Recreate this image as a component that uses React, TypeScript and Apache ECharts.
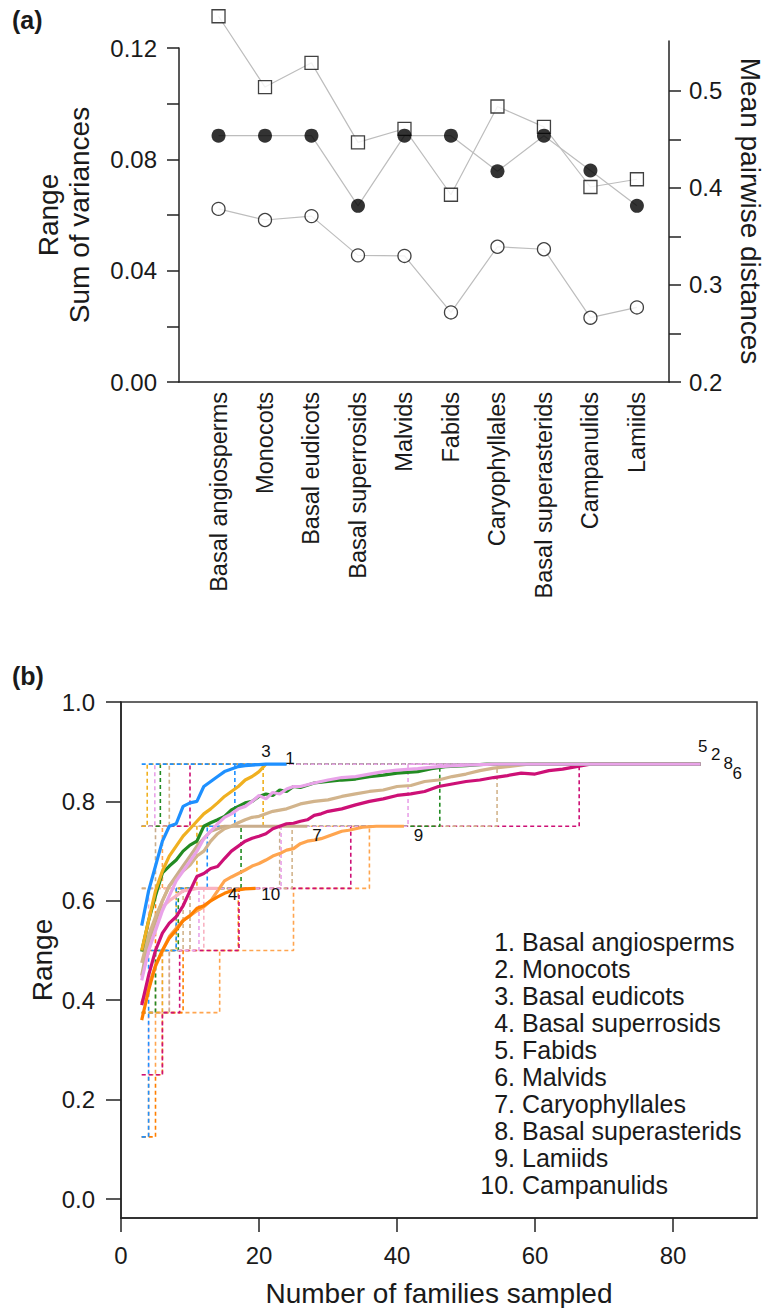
import React, { useEffect, useRef } from 'react';
import * as echarts from 'echarts';

// ---------- Panel (a) data ----------
const categories = ['Basal angiosperms', 'Monocots', 'Basal eudicots', 'Basal superrosids', 'Malvids', 'Fabids', 'Caryophyllales', 'Basal superasterids', 'Campanulids', 'Lamiids'];
const rangeValues = [0.0885, 0.0885, 0.0885, 0.0633, 0.0885, 0.0885, 0.0757, 0.0885, 0.0760, 0.0633];
const sumOfVariances = [0.0622, 0.0582, 0.0596, 0.0455, 0.0453, 0.0250, 0.0486, 0.0477, 0.0231, 0.0268];
const meanPairwiseDistances = [0.577, 0.504, 0.529, 0.447, 0.461, 0.393, 0.484, 0.463, 0.401, 0.409];
const leftTicks = [0, 0.02, 0.04, 0.06, 0.08, 0.10, 0.12];
const leftLabels = [0, 0.04, 0.08, 0.12];
const rightTicks = [0.2, 0.25, 0.3, 0.35, 0.4, 0.45, 0.5];
const rightLabels = [0.2, 0.3, 0.4, 0.5];

// ---------- Panel (b) data ----------
const groupNames = ['Basal angiosperms', 'Monocots', 'Basal eudicots', 'Basal superrosids', 'Fabids', 'Malvids', 'Caryophyllales', 'Basal superasterids', 'Lamiids', 'Campanulids'];
const groupColors = ['#1e90ff', '#228b22', '#f0b020', '#f9b3c2', '#e9a3e9', '#cd1076', '#c9ad8c', '#d2b48c', '#ffa54f', '#ff7f00'];

const curveBasalAngiosperms = [[3, 0.55], [4, 0.62], [5, 0.67], [6, 0.72], [7, 0.75], [8, 0.755], [9, 0.79], [10, 0.797], [11, 0.80], [12, 0.83], [13, 0.84], [14, 0.85], [15, 0.86], [16, 0.865], [17, 0.87], [18, 0.872], [19, 0.873], [20, 0.874], [21, 0.875], [24, 0.875]];
const curveMonocots = [[3, 0.498], [4, 0.56], [5, 0.61], [6, 0.656], [7, 0.67], [8, 0.682], [9, 0.70], [10, 0.712], [11, 0.72], [12, 0.75], [13, 0.757], [14, 0.763], [15, 0.77], [16, 0.783], [17, 0.79], [18, 0.797], [19, 0.80], [20, 0.81], [21, 0.815], [22, 0.812], [23, 0.823], [24, 0.82], [25, 0.83], [26, 0.828], [28, 0.837], [30, 0.84], [32, 0.843], [34, 0.845], [36, 0.85], [38, 0.853], [40, 0.857], [43, 0.86], [45, 0.866], [47, 0.87], [50, 0.872], [53, 0.875], [84, 0.875]];
const curveBasalEudicots = [[3, 0.50], [4, 0.56], [5, 0.62], [6, 0.66], [7, 0.69], [8, 0.71], [9, 0.73], [10, 0.745], [11, 0.76], [12, 0.775], [13, 0.785], [14, 0.797], [15, 0.81], [16, 0.82], [17, 0.83], [18, 0.843], [19, 0.85], [20, 0.86], [21, 0.875]];
const curveBasalSuperrosids = [[3, 0.447], [4, 0.50], [5, 0.55], [6, 0.588], [7, 0.60], [8, 0.61], [9, 0.62], [10, 0.622], [11, 0.625], [14, 0.625]];
const curveFabids = [[3, 0.44], [4, 0.50], [5, 0.54], [6, 0.58], [7, 0.61], [8, 0.64], [9, 0.66], [10, 0.68], [11, 0.70], [12, 0.725], [13, 0.74], [14, 0.755], [15, 0.768], [16, 0.775], [17, 0.785], [18, 0.79], [19, 0.80], [20, 0.812], [21, 0.805], [22, 0.818], [23, 0.815], [24, 0.825], [25, 0.83], [26, 0.83], [28, 0.837], [30, 0.843], [32, 0.848], [34, 0.85], [36, 0.855], [38, 0.86], [40, 0.863], [43, 0.866], [46, 0.87], [50, 0.873], [54, 0.875], [84, 0.875]];
const curveMalvids = [[3, 0.39], [4, 0.45], [5, 0.50], [6, 0.535], [7, 0.555], [8, 0.568], [9, 0.59], [10, 0.62], [11, 0.649], [12, 0.655], [13, 0.665], [14, 0.669], [15, 0.685], [16, 0.70], [17, 0.71], [18, 0.72], [19, 0.726], [20, 0.73], [21, 0.735], [22, 0.745], [23, 0.75], [24, 0.755], [25, 0.756], [26, 0.76], [27, 0.763], [28, 0.772], [29, 0.775], [30, 0.78], [32, 0.785], [34, 0.793], [36, 0.80], [38, 0.805], [40, 0.812], [42, 0.815], [44, 0.82], [46, 0.83], [48, 0.835], [50, 0.84], [52, 0.843], [54, 0.848], [56, 0.852], [58, 0.857], [60, 0.855], [62, 0.862], [64, 0.865], [66, 0.87], [68, 0.875], [84, 0.875]];
const curveCaryophyllales = [[3, 0.45], [4, 0.52], [5, 0.56], [6, 0.60], [7, 0.63], [8, 0.65], [9, 0.67], [10, 0.69], [11, 0.71], [12, 0.725], [13, 0.74], [14, 0.745], [15, 0.75], [27, 0.75]];
const curveBasalSuperasterids = [[3, 0.475], [4, 0.53], [5, 0.568], [6, 0.60], [7, 0.63], [8, 0.645], [9, 0.66], [10, 0.672], [11, 0.69], [12, 0.70], [13, 0.72], [14, 0.735], [15, 0.745], [16, 0.75], [17, 0.757], [18, 0.763], [19, 0.768], [20, 0.77], [22, 0.78], [24, 0.785], [26, 0.795], [28, 0.80], [30, 0.803], [32, 0.81], [34, 0.815], [36, 0.82], [38, 0.823], [40, 0.83], [42, 0.832], [44, 0.84], [46, 0.843], [48, 0.85], [50, 0.855], [52, 0.862], [54, 0.867], [56, 0.87], [59, 0.875], [84, 0.875]];
const curveLamiids = [[3, 0.394], [4, 0.43], [5, 0.468], [6, 0.50], [7, 0.528], [8, 0.545], [9, 0.561], [10, 0.57], [11, 0.58], [12, 0.588], [13, 0.60], [14, 0.62], [15, 0.64], [16, 0.648], [17, 0.655], [18, 0.662], [19, 0.67], [20, 0.675], [21, 0.682], [22, 0.69], [23, 0.695], [24, 0.702], [25, 0.705], [26, 0.715], [27, 0.72], [28, 0.722], [29, 0.725], [30, 0.73], [31, 0.735], [32, 0.74], [33, 0.742], [34, 0.745], [35, 0.748], [37, 0.75], [41, 0.75]];
const curveCampanulids = [[3, 0.36], [4, 0.42], [5, 0.47], [6, 0.50], [7, 0.525], [8, 0.541], [9, 0.56], [10, 0.57], [11, 0.585], [12, 0.59], [13, 0.60], [14, 0.608], [15, 0.615], [16, 0.62], [17, 0.622], [18, 0.624], [19.5, 0.625]];

const lowerBasalAngiosperms = [[3, 0.125], [4, 0.5], [8, 0.625], [12.5, 0.75], [16.5, 0.875], [24, 0.875]];
const upperBasalAngiosperms = [[3, 0.875], [24, 0.875]];
const lowerMonocots = [[3, 0.375], [5, 0.5], [8.3, 0.625], [17.4, 0.75], [46.2, 0.875], [84, 0.875]];
const upperMonocots = [[3, 0.75], [5.7, 0.875], [84, 0.875]];
const lowerBasalEudicots = [[3, 0.375], [6, 0.5], [8, 0.625], [11, 0.75], [20.6, 0.875], [21, 0.875]];
const upperBasalEudicots = [[3, 0.75], [3.8, 0.875], [21, 0.875]];
const lowerBasalSuperrosids = [[3, 0.25], [4, 0.375], [7, 0.5], [12, 0.625], [14, 0.625]];
const upperBasalSuperrosids = [[3, 0.5], [4, 0.625], [14, 0.625]];
const lowerFabids = [[3, 0.375], [6, 0.5], [11.3, 0.625], [23.2, 0.75], [41.6, 0.875], [84, 0.875]];
const upperFabids = [[3, 0.75], [4.9, 0.875], [84, 0.875]];
const lowerMalvids = [[3, 0.25], [6, 0.375], [8.5, 0.5], [17.1, 0.625], [33.3, 0.75], [66.4, 0.875], [84, 0.875]];
const upperMalvids = [[3, 0.75], [10, 0.875], [84, 0.875]];
const lowerCaryophyllales = [[3, 0.375], [7, 0.5], [10, 0.625], [23, 0.75], [27, 0.75]];
const upperCaryophyllales = [[3, 0.625], [5, 0.75], [27, 0.75]];
const lowerBasalSuperasterids = [[3, 0.375], [5, 0.5], [9, 0.625], [24.8, 0.75], [54.5, 0.875], [84, 0.875]];
const upperBasalSuperasterids = [[3, 0.75], [7, 0.875], [84, 0.875]];
const lowerLamiids = [[3, 0.125], [4, 0.25], [5, 0.375], [14.3, 0.5], [25, 0.625], [36, 0.75], [41, 0.75]];
const upperLamiids = [[3, 0.625], [6, 0.75], [41, 0.75]];
const lowerCampanulids = [[3, 0.125], [5, 0.25], [6, 0.375], [9, 0.5], [17, 0.625], [19.5, 0.625]];
const upperCampanulids = [[3, 0.5], [5, 0.625], [19.5, 0.625]];

const curves = [curveBasalAngiosperms, curveMonocots, curveBasalEudicots, curveBasalSuperrosids, curveFabids, curveMalvids, curveCaryophyllales, curveBasalSuperasterids, curveLamiids, curveCampanulids];
const lowers = [lowerBasalAngiosperms, lowerMonocots, lowerBasalEudicots, lowerBasalSuperrosids, lowerFabids, lowerMalvids, lowerCaryophyllales, lowerBasalSuperasterids, lowerLamiids, lowerCampanulids];
const uppers = [upperBasalAngiosperms, upperMonocots, upperBasalEudicots, upperBasalSuperrosids, upperFabids, upperMalvids, upperCaryophyllales, upperBasalSuperasterids, upperLamiids, upperCampanulids];
const drawOrder = [8, 9, 3, 6, 5, 7, 1, 4, 2, 0];

// curve-end annotations: [label, n, range]
const endLabels: [string, number, number][] = [['3', 21.0, 0.900], ['1', 24.5, 0.887], ['7', 28.4, 0.732], ['9', 43.1, 0.732], ['4', 16.2, 0.612], ['10', 21.7, 0.612], ['5', 84.3, 0.910], ['2', 86.2, 0.895], ['8', 88.0, 0.877], ['6', 89.3, 0.857]];
const bXTicks = [0, 20, 40, 60, 80];
const bYTicks = [0, 0.2, 0.4, 0.6, 0.8, 1.0];

const FONT = '"Liberation Sans", Arial, Helvetica, sans-serif';
const TXT = '#1a1a1a';

export default function App() {
  const ref = useRef<HTMLDivElement>(null);
  useEffect(() => {
    document.body.style.margin = '0';
    const chart = echarts.init(ref.current!, null, { renderer: 'svg' });
    const idx = categories.map((_, i) => i);

    const series: any[] = [
      { type: 'line', xAxisIndex: 1, yAxisIndex: 1, data: idx.map(i => [i, meanPairwiseDistances[i]]), symbol: 'none', clip: false, lineStyle: { color: '#bdbdbd', width: 1.2 }, z: 1 },
      { type: 'line', xAxisIndex: 0, yAxisIndex: 0, data: idx.map(i => [i, sumOfVariances[i]]), symbol: 'none', clip: false, lineStyle: { color: '#bdbdbd', width: 1.2 }, z: 1 },
      { type: 'line', xAxisIndex: 0, yAxisIndex: 0, data: idx.map(i => [i, rangeValues[i]]), symbol: 'none', clip: false, lineStyle: { color: '#bdbdbd', width: 1.2 }, z: 1 },
      { type: 'scatter', xAxisIndex: 1, yAxisIndex: 1, data: idx.map(i => [i, meanPairwiseDistances[i]]), symbol: 'rect', symbolSize: 13, clip: false, itemStyle: { color: '#fff', borderColor: '#111', borderWidth: 1.3 }, z: 2 },
      { type: 'scatter', xAxisIndex: 0, yAxisIndex: 0, data: idx.map(i => [i, sumOfVariances[i]]), symbol: 'circle', symbolSize: 13, clip: false, itemStyle: { color: '#fff', borderColor: '#111', borderWidth: 1.3 }, z: 2 },
      { type: 'scatter', xAxisIndex: 0, yAxisIndex: 0, data: idx.map(i => [i, rangeValues[i]]), symbol: 'circle', symbolSize: 14, clip: false, itemStyle: { color: '#000' }, z: 3 },
    ];

    drawOrder.forEach(g => {
      [lowers[g], uppers[g]].forEach(env => {
        series.push({ type: 'line', xAxisIndex: 2, yAxisIndex: 2, data: env, step: 'end', symbol: 'none', lineStyle: { color: groupColors[g], width: 1.6, type: [4, 3] }, z: 1 });
      });
    });
    drawOrder.forEach(g => {
      series.push({ type: 'line', name: groupNames[g], xAxisIndex: 2, yAxisIndex: 2, data: curves[g], symbol: 'none', lineStyle: { color: groupColors[g], width: 3.2 }, z: 2 });
    });
    series.push({
      type: 'scatter', xAxisIndex: 2, yAxisIndex: 2, symbolSize: 2, itemStyle: { color: 'rgba(0,0,0,0)' }, z: 5, silent: true,
      data: endLabels.map(([t, n, v]) => ({ name: t, value: [n, v] })),
      label: { show: true, position: 'inside', formatter: '{b}', fontSize: 17, fontFamily: FONT, color: '#111', textBorderWidth: 0, opacity: 1 },
    });

    const center = { align: 'center', verticalAlign: 'middle', textAlign: 'center', textVerticalAlign: 'middle' };
    const graphic: any[] = [
      { type: 'text', x: 12, y: 20, style: { text: '(a)', font: `bold 25px ${FONT}`, fill: TXT, verticalAlign: 'middle', textVerticalAlign: 'middle' } },
      { type: 'text', x: 12, y: 676, style: { text: '(b)', font: `bold 25px ${FONT}`, fill: TXT, verticalAlign: 'middle', textVerticalAlign: 'middle' } },
      { type: 'text', x: 48, y: 215, rotation: Math.PI / 2, style: { text: 'Range', font: `28px ${FONT}`, fill: TXT, ...center } },
      { type: 'text', x: 79, y: 215, rotation: Math.PI / 2, style: { text: 'Sum of variances', font: `28px ${FONT}`, fill: TXT, ...center } },
      { type: 'text', x: 750, y: 211, rotation: -Math.PI / 2, style: { text: 'Mean pairwise distances', font: `28px ${FONT}`, fill: TXT, ...center } },
      { type: 'text', x: 42, y: 960, rotation: Math.PI / 2, style: { text: 'Range', font: `28px ${FONT}`, fill: TXT, ...center } },
      { type: 'text', x: 439, y: 1293, style: { text: 'Number of families sampled', font: `28px ${FONT}`, fill: TXT, ...center } },
    ];
    groupNames.forEach((name, i) => {
      const y = 941.7 + 27 * i;
      graphic.push({ type: 'text', x: 515, y, style: { text: `${i + 1}.`, font: `25px ${FONT}`, fill: TXT, align: 'right', verticalAlign: 'middle', textAlign: 'right', textVerticalAlign: 'middle' } });
      graphic.push({ type: 'text', x: 522, y, style: { text: name, font: `25px ${FONT}`, fill: TXT, align: 'left', verticalAlign: 'middle', textAlign: 'left', textVerticalAlign: 'middle' } });
    });

    const axisLine = { show: true, onZero: false, lineStyle: { color: '#222', width: 1.5 } };
    const tickStyle = { color: '#222', width: 1.5 };

    chart.setOption({
      animation: false,
      backgroundColor: '#fff',
      textStyle: { fontFamily: FONT },
      grid: [
        { left: 179, right: 97, top: 48, bottom: 926 },
        { left: 179, right: 97, top: 41, bottom: 926 },
        { left: 121, right: 9, top: 702, bottom: 90, show: true, borderColor: '#333', borderWidth: 1.5, backgroundColor: 'transparent' },
      ],
      xAxis: [
        {
          type: 'value', gridIndex: 0, min: -0.85, max: 9.69,
          axisLine, axisTick: { show: false }, splitLine: { show: false },
          axisLabel: { customValues: idx, rotate: 90, margin: 10, fontSize: 23.5, fontFamily: FONT, color: TXT, formatter: (v: number) => categories[Math.round(v)] ?? '' },
        },
        { type: 'value', gridIndex: 1, min: -0.85, max: 9.69, show: false },
        {
          type: 'value', gridIndex: 2, min: 0, max: 92.17,
          axisLine, splitLine: { show: false },
          axisTick: { customValues: bXTicks, length: 14, lineStyle: tickStyle },
          axisLabel: { customValues: bXTicks, margin: 25, fontSize: 24, fontFamily: FONT, color: TXT },
        },
      ],
      yAxis: [
        {
          type: 'value', gridIndex: 0, min: 0, max: 0.12, position: 'left',
          axisLine, splitLine: { show: false },
          axisTick: { customValues: leftTicks, length: 12, lineStyle: tickStyle },
          axisLabel: { customValues: leftLabels, margin: 22, fontSize: 24, fontFamily: FONT, color: TXT, formatter: (v: number) => v.toFixed(2) },
        },
        {
          type: 'value', gridIndex: 1, min: 0.2, max: 0.5515, position: 'right',
          axisLine, splitLine: { show: false },
          axisTick: { customValues: rightTicks, length: 12, lineStyle: tickStyle },
          axisLabel: { customValues: rightLabels, margin: 20, fontSize: 24, fontFamily: FONT, color: TXT, formatter: (v: number) => v.toFixed(1) },
        },
        {
          type: 'value', gridIndex: 2, min: -0.0382, max: 1.0,
          axisLine, splitLine: { show: false },
          axisTick: { customValues: bYTicks, length: 15, lineStyle: tickStyle },
          axisLabel: { customValues: bYTicks, margin: 26, fontSize: 24, fontFamily: FONT, color: TXT, formatter: (v: number) => v.toFixed(1) },
        },
      ],
      series,
      graphic,
    });
    return () => chart.dispose();
  }, []);
  return <div ref={ref} style={{ width: 766, height: 1308 }} />;
}
